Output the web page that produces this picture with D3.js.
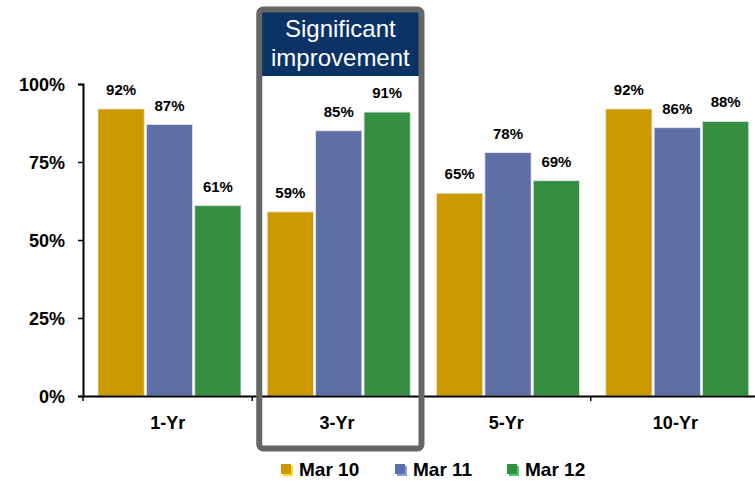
<!doctype html>
<html lang="en">
<head>
<meta charset="utf-8">
<title>Returns by period</title>
<script src="https://cdn.jsdelivr.net/npm/d3@7"></script>
<style>
  body { margin: 0; background: #fff; }
  svg text { font-family: Arial, "Liberation Sans", sans-serif; }
</style>
</head>
<body>
<svg id="chart" width="755" height="483"></svg>
<script>
// data
var periods = ["1-Yr", "3-Yr", "5-Yr", "10-Yr"];
var seriesNames = ["Mar 10", "Mar 11", "Mar 12"];
var mar10 = [92, 59, 65, 92];
var mar11 = [87, 85, 78, 86];
var mar12 = [61, 91, 69, 88];
var yTicks = [0, 25, 50, 75, 100];
var colors = ["#CC9900", "#5D6FA4", "#348F43"];
var highlightPeriod = "3-Yr";
var highlightText = ["Significant", "improvement"];

var allSeries = [mar10, mar11, mar12];

var svg = d3.select("#chart");

var x0 = d3.scaleBand()
  .domain(periods)
  .range([83, 760]);

var x1 = d3.scaleBand()
  .domain(seriesNames)
  .range([15, 158])
  .paddingInner(0.045);

var y = d3.scaleLinear()
  .domain([0, 100])
  .range([396, 84]);

// y axis
var yAxis = d3.axisLeft(y)
  .tickValues(yTicks)
  .tickSize(5)
  .tickFormat(function(d) { return d + "%"; });

var gy = svg.append("g")
  .attr("transform", "translate(83,0)")
  .call(yAxis);
gy.select(".domain").attr("stroke", "#000").attr("stroke-width", 2);
gy.selectAll(".tick line").attr("stroke", "#000").attr("stroke-width", 1.5);
gy.selectAll(".tick text")
  .attr("x", -18)
  .attr("dy", "0.36em")
  .style("font-size", "18px")
  .style("font-weight", "bold")
  .attr("fill", "#000");

// bars
periods.forEach(function(p, i) {
  var g = svg.append("g").attr("transform", "translate(" + x0(p) + ",0)");
  seriesNames.forEach(function(s, k) {
    var v = allSeries[k][i];
    g.append("rect")
      .attr("x", x1(s))
      .attr("y", y(v))
      .attr("width", x1.bandwidth())
      .attr("height", y(0) - y(v))
      .attr("fill", colors[k])
      .attr("stroke", "#e6e6e6")
      .attr("stroke-width", 0.8);
    g.append("text")
      .attr("x", x1(s) + x1.bandwidth() / 2)
      .attr("y", y(v) - 14)
      .attr("text-anchor", "middle")
      .style("font-size", "15px")
      .style("font-weight", "bold")
      .attr("fill", "#000")
      .text(v + "%");
  });
});

// x axis
var xAxis = d3.axisBottom(x0).tickSize(0).tickFormat(function(d) { return d; });
var gx = svg.append("g")
  .attr("transform", "translate(0,396)")
  .call(xAxis);
gx.select(".domain").attr("stroke", "#000").attr("stroke-width", 2);
gx.selectAll(".tick text")
  .attr("y", 33)
  .attr("dy", 0)
  .style("font-size", "18px")
  .style("font-weight", "bold")
  .attr("fill", "#000");

// small tick marks at band boundaries
var bounds = periods.map(function(p) { return x0(p); });
gx.selectAll(".bnd")
  .data(bounds)
  .enter().append("line")
  .attr("class", "bnd")
  .attr("x1", function(d) { return d; })
  .attr("x2", function(d) { return d; })
  .attr("y1", 0)
  .attr("y2", 5)
  .attr("stroke", "#000")
  .attr("stroke-width", 1.5);

// highlight box around 3-Yr
var hx = x0(highlightPeriod);
var bx = hx + 7, bw = x0.bandwidth() - 7;
svg.append("rect")
  .attr("x", bx + 2)
  .attr("y", 11)
  .attr("width", bw - 4)
  .attr("height", 65)
  .attr("fill", "#0B3366");
svg.append("rect")
  .attr("x", bx)
  .attr("y", 9.5)
  .attr("width", bw)
  .attr("height", 439)
  .attr("rx", 4)
  .attr("fill", "none")
  .attr("stroke", "#666666")
  .attr("stroke-width", 6);
svg.selectAll(".hl")
  .data(highlightText)
  .enter().append("text")
  .attr("class", "hl")
  .attr("x", bx + bw / 2)
  .attr("y", function(d, i) { return 37 + i * 29; })
  .attr("text-anchor", "middle")
  .style("font-size", "24px")
  .attr("fill", "#fff")
  .text(function(d) { return d; });

// legend
var legendX = [281, 395, 507];
var lg = svg.selectAll(".leg")
  .data(seriesNames)
  .enter().append("g")
  .attr("class", "leg")
  .attr("transform", function(d, i) { return "translate(" + legendX[i] + ",464)"; });
lg.append("rect")
  .attr("x", 2).attr("y", 2)
  .attr("width", 10).attr("height", 10)
  .attr("fill", function(d, i) { return d3.color(colors[i]).brighter(1); });
lg.append("rect")
  .attr("width", 10).attr("height", 10)
  .attr("fill", function(d, i) { return colors[i]; });
lg.append("text")
  .attr("x", 18)
  .attr("y", 12)
  .style("font-size", "19px")
  .style("font-weight", "bold")
  .attr("fill", "#000")
  .text(function(d) { return d; });
</script>
</body>
</html>
